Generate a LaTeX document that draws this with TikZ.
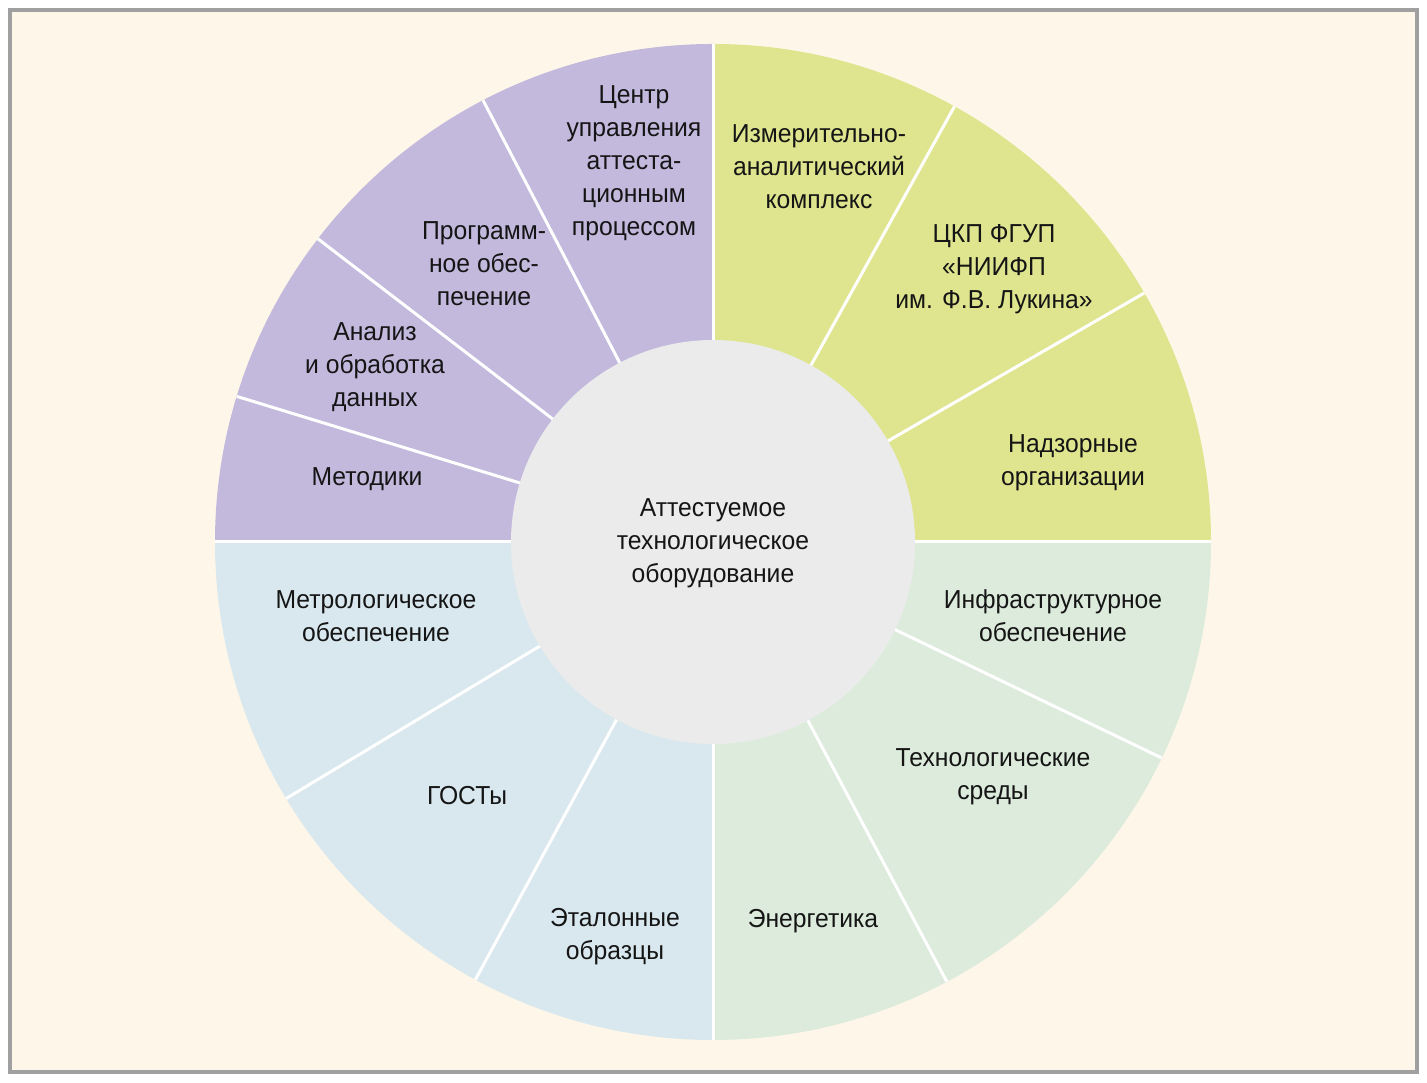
\documentclass[tikz,border=0pt]{standalone}
\usepackage{fontspec}
\setmainfont[FakeStretch=0.95]{Liberation Sans}
\definecolor{bordergray}{HTML}{A0A0A0}
\definecolor{bgcream}{HTML}{FEF7E9}
\definecolor{secpurple}{HTML}{C2B9DD}
\definecolor{secyellow}{HTML}{DFE58F}
\definecolor{secgreen}{HTML}{DDEBDD}
\definecolor{secblue}{HTML}{D9E8EE}
\definecolor{hubgray}{HTML}{EBEBEB}
\definecolor{txt}{HTML}{151515}
\begin{document}
\begin{tikzpicture}[x=1pt,y=1pt,
  lbl/.style={align=center, inner sep=0pt, text=txt, font=\fontsize{26}{33}\selectfont},
  sep/.style={draw=white, line width=3pt}]
\useasboundingbox (0,0) rectangle (1427,1082);
\fill[white] (0,0) rectangle (1427,1082);
\draw[line width=4pt, draw=bordergray, fill=bgcream] (10,10) rectangle (1417,1072);
\coordinate (c) at (713,540);
\begin{scope}[shift={(c)}]
  \def\R{498}\def\r{202}
  \fill[secyellow] (0,0) -- (0:\R) arc[start angle=0,end angle=90,radius=\R] -- cycle;
  \fill[secpurple] (0,0) -- (90:\R) arc[start angle=90,end angle=180,radius=\R] -- cycle;
  \fill[secblue] (0,0) -- (180:\R) arc[start angle=180,end angle=270,radius=\R] -- cycle;
  \fill[secgreen] (0,0) -- (270:\R) arc[start angle=270,end angle=360,radius=\R] -- cycle;
  \foreach \a in {0,30,61,90,117.5,142.5,163,180,211,241.5,270,298,334.3}
    \draw[sep] (0,0) -- (\a:\R);
  \fill[hubgray] (0,0) circle[radius=\r];
\end{scope}
\node[lbl] (hub) at (713,539) {Аттестуемое\\технологическое\\оборудование};
\node[lbl] (s1) at (634,919) {Центр\\управления\\аттеста-\\ционным\\процессом};
\node[lbl] (s2) at (484,818) {Программ-\\ное обес-\\печение};
\node[lbl] (s3) at (375,715) {Анализ\\и обработка\\данных};
\node[lbl] (s4) at (367,603) {Методики};
\node[lbl] (s5) at (819,915) {Измерительно-\\аналитический\\комплекс};
\node[lbl] (s6) at (994,813) {ЦКП ФГУП\\«НИИФП\\им. Ф.В. Лукина»};
\node[lbl] (s7) at (1073,619) {Надзорные\\организации};
\node[lbl] (s8) at (1053,466) {Инфраструктурное\\обеспечение};
\node[lbl] (s9) at (993,305) {Технологические\\среды};
\node[lbl] (s10) at (813,161) {Энергетика};
\node[lbl] (s11) at (615,145) {Эталонные\\образцы};
\node[lbl] (s12) at (467,286) {ГОСТы};
\node[lbl] (s13) at (376,466) {Метрологическое\\обеспечение};
\end{tikzpicture}
\end{document}
